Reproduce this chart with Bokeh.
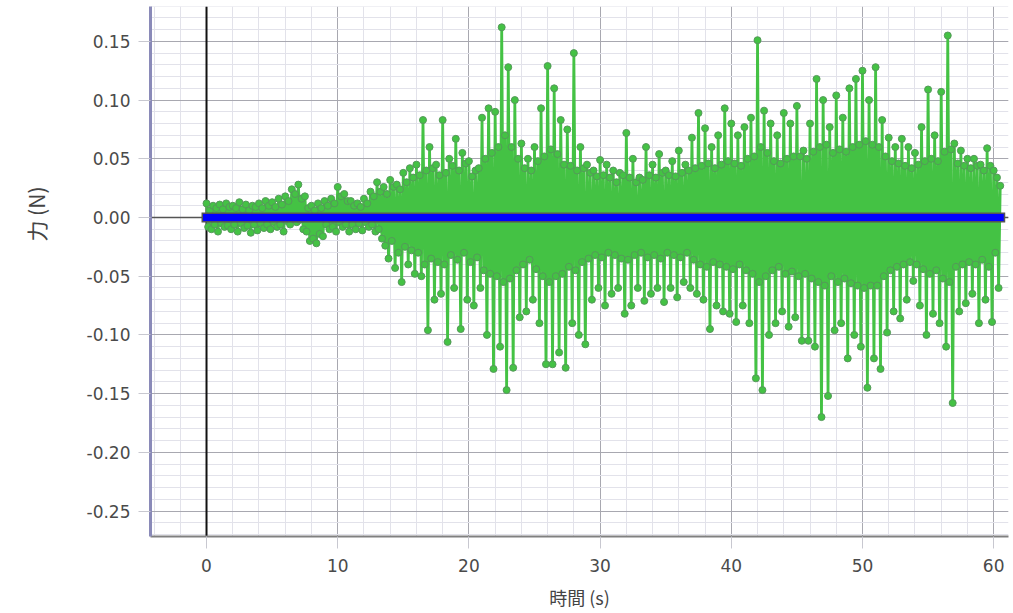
from bokeh.plotting import figure
from bokeh.models import FixedTicker, NumeralTickFormatter, Span, Title, Range1d
from bokeh.embed import file_html
from bokeh.resources import INLINE

# ---- data ----
sample_interval = 0.125  # s between samples
# force readings in mN, one row per second (8 samples per second)
force_mN = [
    12, -8, 6, -10, 10, -6, 8, -12,          # 0 s
    11, -5, 7, -8, 12, -7, 9, -10,
    10, -6, 8, -12, 13, -5, 7, -9,
    11, -7, 6, -13, 10, -6, 9, -11,
    12, -5, 8, -9, 14, -6, 10, -10,
    13, -4, 9, -8, 16, -6, 11, -12,          # 5 s
    18, -3, 14, -6, 24, 0, 20, -4,
    28, -2, 16, -10, 18, -12, 8, -20,
    10, -18, 6, -22, 12, -14, 8, -16,
    14, -6, 10, -10, 16, -8, 12, -12,
    26, -4, 18, -8, 20, -6, 14, -12,         # 10 s
    14, -6, 10, -10, 12, -5, 9, -11,
    16, -4, 12, -8, 22, -6, 18, -12,
    30, -10, 22, -18, 26, -24, 20, -35,
    32, -20, 26, -43, 28, -30, 24, -55,
    38, -25, 30, -40, 42, -28, 34, -48,      # 15 s
    45, -30, 36, -50, 83, -40, 40, -96,
    60, -35, 42, -70, 45, -38, 36, -65,
    83, -40, 38, -106, 50, -32, 44, -60,
    67, -36, 40, -95, 55, -30, 46, -70,
    48, -38, 35, -75, 40, -34, 42, -60,      # 20 s
    85, -45, 50, -100, 93, -48, 55, -129,
    90, -50, 60, -110, 162, -55, 70, -147,
    128, -52, 60, -128, 100, -45, 50, -85,
    63, -40, 42, -80, 50, -36, 40, -70,
    60, -44, 48, -90, 93, -50, 52, -125,     # 25 s
    129, -55, 58, -125, 110, -50, 54, -115,
    83, -48, 45, -128, 75, -42, 44, -90,
    140, -45, 40, -100, 60, -38, 42, -108,
    45, -35, 38, -70, 40, -32, 35, -60,
    49, -34, 36, -75, 45, -30, 34, -65,      # 30 s
    40, -32, 30, -60, 38, -35, 36, -82,
    72, -36, 34, -75, 50, -32, 30, -60,
    34, -30, 32, -71, 60, -34, 36, -65,
    45, -32, 34, -60, 54, -35, 38, -72,
    40, -30, 36, -60, 48, -32, 35, -68,      # 35 s
    57, -34, 38, -55, 45, -30, 40, -60,
    68, -36, 42, -65, 89, -40, 44, -70,
    76, -42, 46, -95, 60, -38, 42, -75,
    70, -40, 45, -80, 93, -42, 48, -82,
    80, -44, 46, -89, 70, -40, 44, -75,      # 40 s
    77, -45, 50, -90, 85, -48, 52, -137,
    151, -55, 60, -147, 91, -50, 55, -100,
    80, -45, 48, -90, 70, -42, 46, -80,
    89, -48, 50, -93, 80, -46, 52, -85,
    95, -50, 52, -105, 57, -48, 50, -105,    # 45 s
    80, -52, 56, -110, 118, -55, 60, -170,
    100, -58, 62, -152, 77, -50, 55, -96,
    104, -55, 58, -90, 85, -52, 56, -120,
    110, -56, 60, -100, 118, -58, 62, -110,
    125, -60, 65, -145, 100, -58, 62, -120,  # 50 s
    128, -58, 60, -129, 83, -50, 52, -98,
    68, -45, 48, -80, 60, -42, 46, -86,
    67, -40, 44, -70, 60, -38, 42, -54,
    55, -40, 45, -75, 77, -44, 48, -100,
    109, -48, 50, -82, 70, -45, 48, -90,     # 55 s
    107, -52, 56, -110, 155, -55, 58, -158,
    63, -42, 46, -80, 57, -40, 44, -73,
    50, -38, 42, -65, 50, -40, 44, -90,
    45, -36, 40, -70, 59, -42, 44, -89,
    40, -30, 34, -60, 27,                    # 60 s
]
force = [v / 1000.0 for v in force_mN]
time = [i * sample_interval for i in range(len(force))]

fit_value = 0.0  # fitted line value (N)

x_major_ticks = [0, 10, 20, 30, 40, 50, 60]
x_minor_ticks = list(range(-4, 62, 2))
y_major_ticks = [-0.25, -0.20, -0.15, -0.10, -0.05, 0.00, 0.05, 0.10, 0.15]
y_minor_ticks = [round(-0.27 + 0.01 * i, 2) for i in range(46)]

x_title = "時間 (s)"
y_title = "力 (N)"

# ---- figure ----
p = figure(width=1010, height=612,
           x_range=Range1d(-4.27, 61.13), y_range=Range1d(-0.2717, 0.1797),
           output_backend="svg", toolbar_location=None,
           min_border_left=150, min_border_right=2,
           min_border_top=6, min_border_bottom=76)
p.outline_line_color = None
p.background_fill_color = "white"

p.xaxis.ticker = FixedTicker(ticks=x_major_ticks, minor_ticks=x_minor_ticks)
p.yaxis.ticker = FixedTicker(ticks=y_major_ticks, minor_ticks=y_minor_ticks)
p.yaxis.formatter = NumeralTickFormatter(format="0.00")

for g in (p.xgrid, p.ygrid):
    g.grid_line_color = "#a8a8b0"
    g.grid_line_width = 1
    g.minor_grid_line_color = "#e2e2ea"
    g.minor_grid_line_width = 1

for ax in (p.xaxis, p.yaxis):
    ax.major_label_text_font = "DejaVu Sans"
    ax.major_label_text_font_size = "17px"
    ax.major_label_text_color = "#4a4a4a"
    ax.major_tick_in = 0
    ax.major_tick_out = 12
    ax.major_tick_line_color = "#c8c8d0"
    ax.minor_tick_line_color = None
    ax.major_label_standoff = 8

p.yaxis.axis_line_color = "#8a8ab8"
p.yaxis.axis_line_width = 3
p.xaxis.axis_line_color = "#808080"
p.xaxis.axis_line_width = 2
p.xaxis.major_label_standoff = 10

p.xaxis.axis_label = x_title
p.xaxis.axis_label_text_font = "Noto Sans CJK JP"
p.xaxis.axis_label_text_font_size = "18px"
p.xaxis.axis_label_text_font_style = "normal"
p.xaxis.axis_label_text_color = "#444444"
p.xaxis.axis_label_standoff = 9

# spacing panel between the y tick labels and the y-axis title
p.add_layout(Title(text=" ", text_font_size="1px", standoff=8), "left")
# y-axis title, in the left panel, upper part as in the reference
p.add_layout(Title(text=y_title, align="right", offset=180,
                   vertical_align="top", standoff=40,
                   text_font="Noto Sans CJK JP", text_font_size="21px",
                   text_font_style="normal", text_color="#444444"), "left")

# zero lines (under the data)
p.add_layout(Span(location=0, dimension="width", line_color="#555555",
                  line_width=1.5, level="underlay"))
p.add_layout(Span(location=0, dimension="height", line_color="#111111",
                  line_width=2, level="underlay"))

# data series
p.line(time, force, line_color="#44c244", line_width=2.8)
p.scatter(time, force, size=7, fill_color="#44c244", line_color="#55995a",
          line_width=1)

# fitted line
fit_x = [time[0], time[-1]]
p.line(fit_x, [fit_value, fit_value], line_color="#555555", line_width=10,
       line_cap="square")
p.line(fit_x, [fit_value, fit_value], line_color="#0000ff", line_width=7,
       line_cap="square")

open("out.html", "w").write(file_html(p, INLINE))
